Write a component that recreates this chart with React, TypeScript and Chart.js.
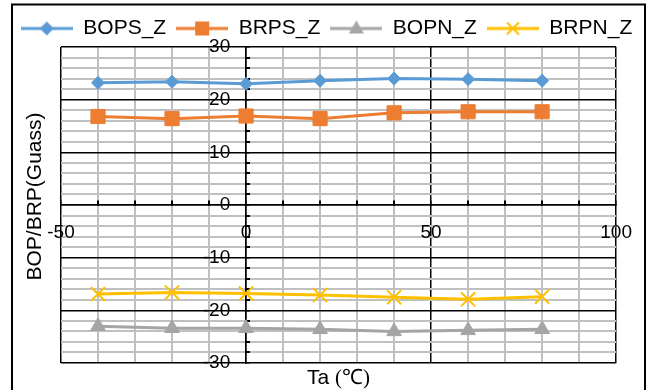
import React, { useEffect, useRef } from 'react';
import { Chart, registerables } from 'chart.js';

Chart.register(...registerables);

// ---- data ----
const temperatures = [-40, -20, 0, 20, 40, 60, 80];
const bopsZ = [23.2, 23.4, 23.0, 23.6, 24.0, 23.9, 23.6];
const brpsZ = [16.8, 16.4, 16.9, 16.4, 17.5, 17.7, 17.7];
const bopnZ = [-23.0, -23.4, -23.4, -23.6, -24.0, -23.8, -23.6];
const brpnZ = [-16.9, -16.6, -16.8, -17.1, -17.5, -17.9, -17.4];
const seriesNames = ['BOPS_Z', 'BRPS_Z', 'BOPN_Z', 'BRPN_Z'];
const xLabelValues = [-50, 0, 50, 100];
const yLabelValues = [-30, -20, -10, 0, 10, 20, 30];
const xTitle = 'Ta ';
const xTitleUnit = '(℃)';
const yTitle = 'BOP/BRP(Guass)';

const SANS = "'Liberation Sans', Arial, sans-serif";
const SERIF = "'Liberation Serif', 'Times New Roman', serif";
const COLORS = ['#5B9BD5', '#ED7D31', '#A5A5A5', '#FFC000'];
const KINDS = ['diamond', 'square', 'triangle', 'cross'];

function makeIcon(color: string, kind: string) {
  const c = document.createElement('canvas');
  c.width = 52;
  c.height = 20;
  const g = c.getContext('2d')!;
  g.strokeStyle = color;
  g.fillStyle = color;
  g.lineWidth = 3;
  g.beginPath();
  g.moveTo(0, 10);
  g.lineTo(52, 10);
  g.stroke();
  const cx = 26, cy = 10;
  if (kind === 'diamond') {
    g.beginPath();
    g.moveTo(cx, cy - 7); g.lineTo(cx + 7, cy); g.lineTo(cx, cy + 7); g.lineTo(cx - 7, cy);
    g.closePath(); g.fill();
  } else if (kind === 'square') {
    g.fillRect(cx - 7, cy - 7, 14, 14);
  } else if (kind === 'triangle') {
    g.beginPath();
    g.moveTo(cx, cy - 8); g.lineTo(cx + 7.5, cy + 5); g.lineTo(cx - 7.5, cy + 5);
    g.closePath(); g.fill();
  } else {
    g.lineWidth = 2;
    g.beginPath();
    g.moveTo(cx - 6, cy - 6); g.lineTo(cx + 6, cy + 6);
    g.moveTo(cx + 6, cy - 6); g.lineTo(cx - 6, cy + 6);
    g.stroke();
  }
  return c;
}

const decorPlugin = {
  id: 'decor',
  afterDraw(chart: any) {
    const { ctx, chartArea } = chart;
    ctx.save();
    // outer frame
    ctx.strokeStyle = '#000';
    ctx.lineWidth = 2;
    ctx.strokeRect(12, 4.5, 633, 400);
    // x title
    ctx.fillStyle = '#000';
    ctx.textBaseline = 'alphabetic';
    ctx.font = `21px ${SANS}`;
    const w1 = ctx.measureText(xTitle).width;
    ctx.font = `21px ${SERIF}`;
    const w2 = ctx.measureText(xTitleUnit).width;
    const cx = (chartArea.left + chartArea.right) / 2;
    const start = cx - (w1 + w2) / 2;
    ctx.textAlign = 'left';
    ctx.font = `21px ${SANS}`;
    ctx.fillText(xTitle, start, 384);
    ctx.font = `21px ${SERIF}`;
    ctx.fillText(xTitleUnit, start + w1, 384);
    // y title
    ctx.translate(35, 196.5);
    ctx.rotate(-Math.PI / 2);
    ctx.font = `21px ${SANS}`;
    ctx.textAlign = 'center';
    ctx.textBaseline = 'middle';
    ctx.fillText(yTitle, 0, 0);
    ctx.restore();
  },
};

export default function App() {
  const ref = useRef<HTMLCanvasElement>(null);
  useEffect(() => {
    const seriesValues = [bopsZ, brpsZ, bopnZ, brpnZ];
    const pointStyles = ['rectRot', 'rect', 'triangle', 'crossRot'];
    const radii = [6.5, 10, 8.5, 10];
    const icons = COLORS.map((c, i) => makeIcon(c, KINDS[i]));
    const datasets = seriesNames.map((name, i) => ({
      label: name,
      data: temperatures.map((t, j) => ({ x: t, y: seriesValues[i][j] })),
      borderColor: COLORS[i],
      backgroundColor: COLORS[i],
      borderWidth: 3,
      pointStyle: pointStyles[i],
      pointRadius: radii[i],
      pointBorderWidth: i === 3 ? 2 : 1,
      pointBorderColor: COLORS[i],
      pointBackgroundColor: COLORS[i],
      tension: 0,
      xAxisID: 'x',
      yAxisID: 'y',
    }));
    const gridColor = (ctx: any, major: number) =>
      ctx.tick && ctx.tick.value % major === 0 ? '#000' : '#C0C0C0';
    const chart = new Chart(ref.current!, {
      type: 'line',
      data: { datasets },
      plugins: [decorPlugin],
      options: {
        animation: false,
        responsive: false,
        devicePixelRatio: 1,
        layout: { padding: { top: 8, bottom: 27, left: 0, right: 0 } },
        plugins: {
          tooltip: { enabled: false },
          legend: {
            position: 'top',
            maxHeight: 39,
            labels: {
              usePointStyle: true,
              pointStyleWidth: 52,
              padding: 10,
              color: '#000',
              font: { family: SANS, size: 21 },
              generateLabels: () =>
                seriesNames.map((n, i) => ({
                  text: n,
                  pointStyle: icons[i],
                  datasetIndex: i,
                  hidden: false,
                  fontColor: '#000',
                  fillStyle: COLORS[i],
                  strokeStyle: COLORS[i],
                  lineWidth: 0,
                })),
            },
          },
        },
        scales: {
          x: {
            type: 'linear',
            position: { y: 0 } as any,
            min: -50,
            max: 100,
            ticks: {
              stepSize: 10,
              autoSkip: false,
              maxRotation: 0,
              padding: 21,
              color: '#000',
              font: { family: SANS, size: 19 },
              callback: (v: any) => (xLabelValues.includes(Number(v)) ? String(v) : ''),
            },
            grid: {
              color: (c: any) => gridColor(c, 50),
              lineWidth: (c: any) => (c.tick && c.tick.value % 50 === 0 ? 1.5 : 2),
              tickColor: '#000',
              tickLength: -5,
              drawTicks: true,
            },
            border: { display: true, color: '#000', width: 1.5 },
          },
          y: {
            type: 'linear',
            position: { x: 0 } as any,
            min: -30,
            max: 30,
            ticks: {
              stepSize: 2,
              autoSkip: false,
              padding: 0,
              color: '#000',
              font: { family: SANS, size: 19 },
              callback: (v: any) => (yLabelValues.includes(Number(v)) ? String(v) + '   ' : ''),
            },
            grid: {
              color: (c: any) => gridColor(c, 10),
              lineWidth: (c: any) => (c.tick && c.tick.value % 10 === 0 ? 1.5 : 2),
              tickColor: '#000',
              tickLength: -5,
              drawTicks: true,
            },
            border: { display: true, color: '#000', width: 1.5 },
          },
          padL: {
            type: 'linear',
            position: 'left',
            display: true,
            ticks: { display: false },
            grid: { display: false, drawTicks: false },
            border: { display: false },
            afterFit: (s: any) => { s.width = 61; },
          },
          padR: {
            type: 'linear',
            position: 'right',
            display: true,
            ticks: { display: false },
            grid: { display: false, drawTicks: false },
            border: { display: false },
            afterFit: (s: any) => { s.width = 36; },
          },
        },
      } as any,
    });
    return () => chart.destroy();
  }, []);
  return (
    <div style={{ position: 'absolute', left: 0, top: 0, width: 653, height: 390, background: '#fff' }}>
      <canvas ref={ref} width={653} height={390} style={{ display: 'block' }} />
    </div>
  );
}
